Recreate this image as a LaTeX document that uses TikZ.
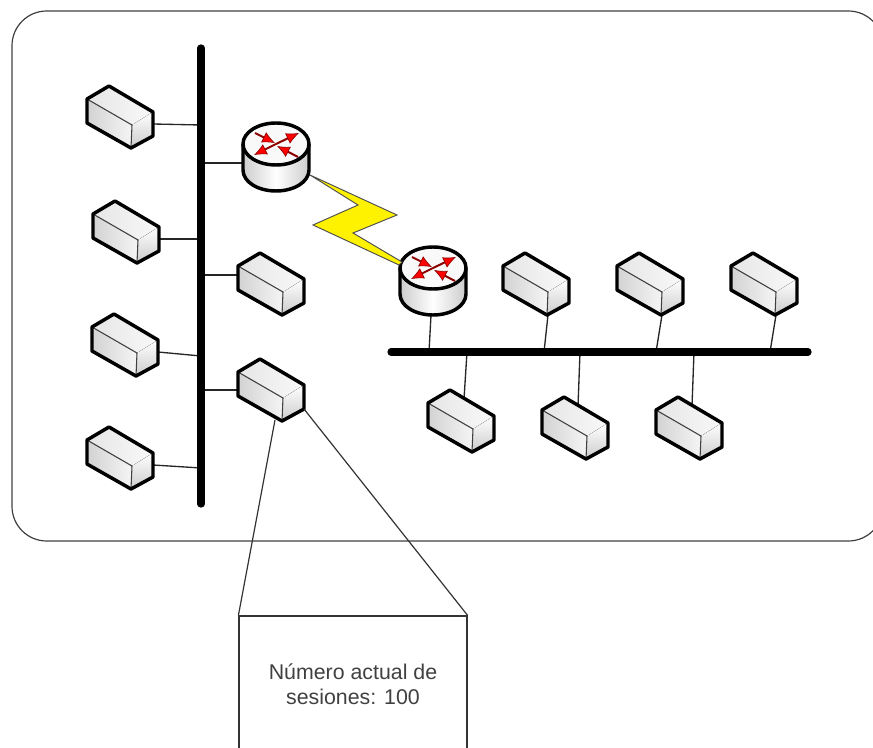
\documentclass[tikz,border=0pt]{standalone}
\usepackage{fontspec}
\setmainfont{Liberation Sans}
\usetikzlibrary{arrows.meta,backgrounds}

\tikzset{
  panel/.style={draw=black!75, line width=0.9pt, rounded corners=26pt},
  bus/.style={line width=5.4pt, line cap=round, black},
  link/.style={line width=1pt, black!85},
  zoomline/.style={line width=0.9pt, black!80},
  outline/.style={line width=2.6pt, line join=round, black},
  edge line/.style={line width=0.8pt, black!75},
  flash/.style={draw=black!70, line width=0.7pt, fill=yellow, line join=miter},
  sessionbox/.style={draw=black!80, line width=0.9pt, minimum width=171pt, minimum height=102pt,
    align=center, text=black!75, font=\fontsize{16}{18.8}\selectfont},
  flow/.style={line width=1.5pt, red!55!black, -{Latex[length=9.5pt, width=8.5pt, line width=0.5pt, fill=red]}},
  host/.pic={
    % Shaded faces of the box
    \fill[left color=gray!35, right color=gray!8] (-33,-18) -- (12,8) -- (11,31) -- (-33,6) -- cycle;
    \fill[left color=gray!20, right color=gray!5] (-33,-18) -- (-11,-31) -- (33,-5) -- (12,8) -- cycle;
    \fill[top color=white, bottom color=gray!40] (12,8) -- (33,-5) -- (33,19) -- (11,31) -- cycle;
    \draw[edge line] (-33,-18) -- (12,8) (12,8) -- (11,31);
    \draw[outline] (-33,-18) -- (-11,-31) -- (33,-5) -- (33,19) -- (11,31) -- (-33,6) -- cycle;
    % Ports for the connectors
    \coordinate (-e) at (33,7);
    \coordinate (-w) at (-33,-9);
    \coordinate (-c) at (-20,0);
    \coordinate (-s) at (12,31);
    \coordinate (-n) at (3,-22);
    \coordinate (-r) at (33,19);
  },
  router/.pic={
    % Cylinder body and lid
    \shade[left color=gray!40, right color=gray!40, middle color=white]
      (-33,-13) -- (-33,13) .. controls (-33,25) and (-18,34) .. (0,34)
      .. controls (18,34) and (33,25) .. (33,13) -- (33,-13) -- cycle;
    \fill[gray!5] (0,-13) ellipse [x radius=33, y radius=21];
    \draw[edge line] (-33,-13) .. controls (-33,-1) and (-18,8) .. (0,8)
      .. controls (18,8) and (33,-1) .. (33,-13);
    \draw[outline] (-33,-13) -- (-33,13) .. controls (-33,25) and (-18,34) .. (0,34)
      .. controls (18,34) and (33,25) .. (33,13) -- (33,-13);
    \draw[outline] (0,-13) ellipse [x radius=33, y radius=21];
    % Arrows on the lid
    \draw[flow] (0,-13) -- (23,-24);
    \draw[flow] (0,-13) -- (-22,-2);
    \draw[flow] (-21,-24) -- (-1,-14);
    \draw[flow] (22,0) -- (1,-11);
    % Ports for the connectors
    \coordinate (-w) at (-32,6);
    \coordinate (-s) at (-2,34);
  }
}

\begin{document}
\begin{tikzpicture}[x=0.75pt, y=-0.75pt]
  \useasboundingbox (0,0) rectangle (873,748);

  % Drawing the rounded outline of the network
  \draw[panel] (12,11) rectangle (883,541);

  % Drawing the two backbones
  \coordinate (busleftA) at (201,48);
  \coordinate (busleftB) at (201,504);
  \coordinate (busrightA) at (391,352);
  \coordinate (busrightB) at (808,352);
  \draw[bus] (busleftA) -- (busleftB);
  \draw[bus] (busrightA) -- (busrightB);

  % Placing the hosts
  \foreach \name/\x/\y in {hostA/120/117, hostB/126/232, hostC/125/345, hostD/120/458,
                           hostE/271/284, hostF/271/390,
                           hostG/536/284, hostH/650/284, hostI/764/284,
                           hostJ/461/421, hostK/575/428, hostL/689/428}
    \pic (\name) at (\x,\y) {host};

  % Placing the routers
  \pic (routerA) at (276,157) {router};
  \pic (routerB) at (433,281) {router};

  % Drawing the serial link between the routers
  \node[inner sep=0pt] (flashstart) at (310,175) {};
  \draw[flash] (flashstart.center) -- (397,215) -- (353,233) -- (402,262) -- (399,265)
    -- (313,225) -- (358,205) -- cycle;

  % Drawing the connectors behind the hosts
  \begin{scope}[on background layer]
    \foreach \from/\x/\y in {hostA-e/201/125, hostB-e/201/239, hostC-e/201/356, hostD-e/201/468,
                             hostE-w/201/275, hostF-c/201/390, routerA-w/201/163,
                             routerB-s/429/352, hostG-s/544/352, hostH-s/656/352, hostI-s/770/352,
                             hostJ-n/467/352, hostK-n/580/352, hostL-n/694/352}
    {
      \coordinate (tap) at (\x,\y);
      \draw[link] (\from) -- (tap);
    }
  \end{scope}

  % Drawing the box with the session count
  \node[sessionbox] (sessions) at (353,684) {Número actual de\\sesiones: 100};
  \coordinate (zoomfoot) at (275,420);
  \draw[zoomline] (zoomfoot) -- (sessions.north west);
  \draw[zoomline] (hostF-r) -- (sessions.north east);
\end{tikzpicture}
\end{document}
